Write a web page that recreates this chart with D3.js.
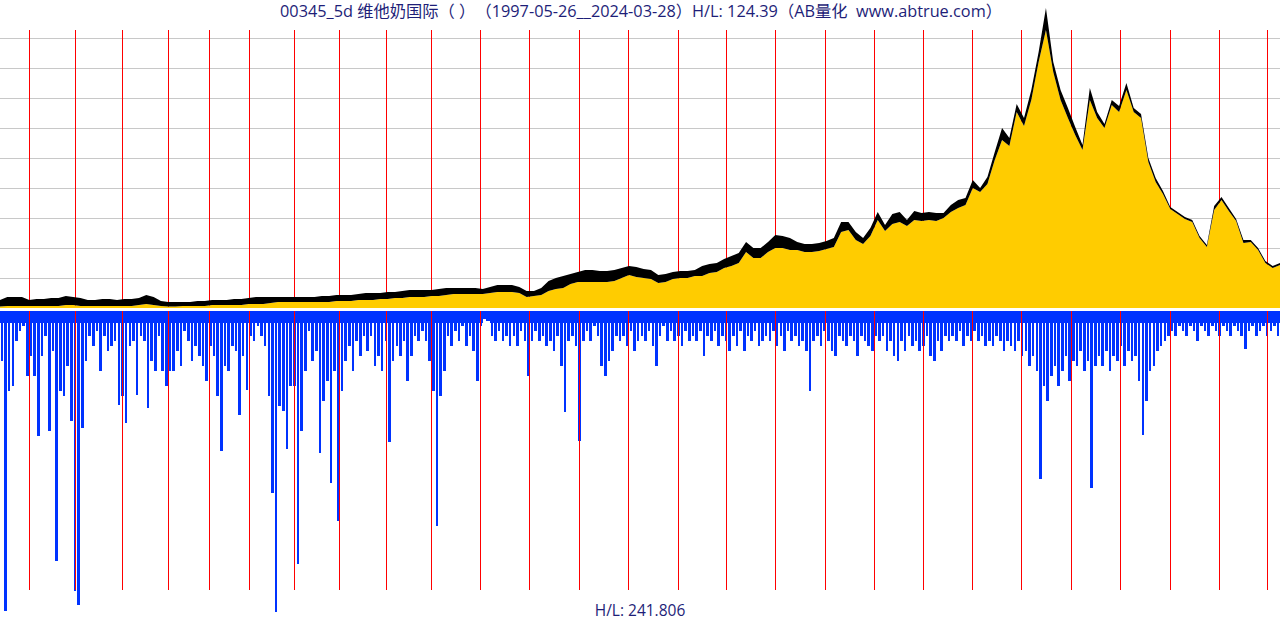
<!DOCTYPE html>
<html>
<head>
<meta charset="utf-8">
<script src="https://cdn.jsdelivr.net/npm/d3@7"></script>
<style>
  body { margin: 0; background: #fff; }
  svg { display: block; }
  text { text-spacing-trim: space-all; white-space: pre; }
</style>
</head>
<body>
<svg id="chart"></svg>
<script>
// 00345 weekly (5d) bars, 1997-05-26 .. 2024-03-28
var totalWeeks = 1400
var priceStep = 8   // one price sample every 8 weeks
var volStep = 4     // one volume sample every 4 weeks

// weekly high / low (HKD, adjusted), sampled every 8 weeks
var priceHigh = [
  0.98, 1.34, 1.34, 1.34, 0.98, 1.10, 1.10, 1.22, 1.22, 1.46,
  1.34, 1.22, 0.98, 0.98, 1.10, 1.10, 0.98, 1.10, 1.10, 1.22,
  1.59, 1.34, 0.85, 0.73, 0.73, 0.73, 0.73, 0.85, 0.85, 0.98,
  0.98, 0.98, 1.10, 1.10, 1.22, 1.34, 1.34, 1.34, 1.34, 1.34,
  1.34, 1.34, 1.34, 1.34, 1.46, 1.46, 1.59, 1.59, 1.59, 1.71,
  1.83, 1.83, 1.83, 1.95, 1.95, 2.07, 2.20, 2.20, 2.20, 2.20,
  2.32, 2.44, 2.44, 2.44, 2.44, 2.44, 2.32, 2.56, 2.81, 2.81,
  2.81, 2.56, 2.07, 2.07, 2.44, 3.29, 3.66, 3.90, 4.15, 4.39,
  4.64, 4.64, 4.51, 4.51, 4.64, 4.88, 5.12, 5.00, 4.76, 4.64,
  4.03, 4.15, 4.39, 4.51, 4.51, 4.64, 5.12, 5.37, 5.49, 5.98,
  6.34, 6.71, 8.05, 7.32, 7.32, 8.05, 8.91, 8.78, 8.54, 8.05,
  7.81, 7.81, 7.93, 8.17, 8.54, 10.49, 10.49, 9.27, 8.54, 9.76,
  11.71, 10.13, 11.47, 11.71, 10.74, 11.83, 11.59, 11.71, 11.59, 11.59,
  12.57, 13.18, 13.42, 15.62, 14.64, 15.98, 19.03, 21.96, 20.74, 24.89,
  23.18, 26.60, 31.23, 36.60, 30.01, 26.60, 24.40, 22.08, 19.89, 26.84,
  23.91, 22.45, 25.38, 24.64, 27.45, 24.40, 23.67, 18.30, 15.86, 14.27,
  12.32, 11.71, 11.10, 10.74, 8.78, 7.69, 12.44, 13.54, 12.20, 10.86,
  8.30, 8.30, 7.32, 5.73, 5.12, 5.49
]
var priceLow = [
  0.18, 0.24, 0.24, 0.24, 0.24, 0.24, 0.24, 0.24, 0.24, 0.37,
  0.37, 0.24, 0.24, 0.24, 0.24, 0.24, 0.24, 0.24, 0.24, 0.37,
  0.49, 0.37, 0.24, 0.18, 0.18, 0.24, 0.24, 0.24, 0.24, 0.37,
  0.37, 0.37, 0.37, 0.37, 0.49, 0.49, 0.49, 0.61, 0.73, 0.73,
  0.73, 0.73, 0.73, 0.73, 0.73, 0.73, 0.85, 0.85, 0.85, 0.98,
  0.98, 0.98, 1.10, 1.10, 1.22, 1.22, 1.34, 1.34, 1.34, 1.46,
  1.46, 1.59, 1.71, 1.71, 1.71, 1.71, 1.71, 1.83, 1.95, 1.95,
  1.95, 1.83, 1.34, 1.46, 1.59, 2.07, 2.32, 2.44, 2.93, 3.17,
  3.17, 3.17, 3.17, 3.17, 3.29, 3.66, 4.03, 3.78, 3.66, 3.54,
  3.05, 3.17, 3.54, 3.66, 3.66, 3.90, 3.90, 4.27, 4.39, 4.88,
  5.12, 5.49, 6.83, 6.10, 6.10, 6.83, 7.32, 7.32, 7.08, 7.08,
  6.83, 6.83, 6.95, 7.20, 7.44, 9.27, 9.52, 8.30, 7.81, 8.78,
  10.74, 9.39, 10.25, 10.49, 10.00, 10.74, 10.61, 10.74, 10.61, 10.98,
  11.71, 12.20, 12.57, 14.64, 14.15, 15.13, 18.06, 20.50, 19.76, 23.91,
  22.20, 25.38, 30.01, 33.92, 28.79, 25.38, 23.18, 21.11, 19.28, 25.38,
  23.18, 21.96, 24.77, 23.91, 26.60, 23.91, 23.18, 17.81, 15.37, 13.91,
  12.08, 11.47, 10.86, 10.49, 8.54, 7.44, 11.96, 13.18, 11.83, 10.61,
  7.93, 8.05, 7.08, 5.49, 4.88, 5.25
]

// volume (relative units), sampled every 4 weeks
var volume = [
  50, 300, 80, 75, 30, 20, 15, 65, 45, 65,
  125, 45, 25, 120, 40, 250, 80, 85, 55, 110,
  280, 294, 117, 50, 25, 35, 20, 60, 25, 40,
  35, 30, 94, 85, 112, 35, 30, 84, 25, 30,
  97, 50, 60, 25, 60, 75, 60, 60, 40, 55,
  20, 30, 50, 35, 45, 55, 70, 35, 45, 85,
  140, 55, 60, 35, 40, 104, 45, 79, 25, 30,
  15, 25, 35, 85, 182, 301, 95, 100, 138, 75,
  75, 253, 120, 60, 20, 50, 40, 142, 90, 70,
  172, 60, 210, 80, 50, 35, 60, 30, 45, 25,
  40, 25, 55, 45, 60, 30, 131, 50, 35, 45,
  30, 70, 45, 25, 30, 20, 30, 50, 80, 215,
  85, 60, 25, 35, 20, 30, 15, 35, 25, 40,
  70, 15, 8, 10, 25, 30, 20, 30, 25, 35,
  25, 35, 20, 30, 65, 30, 20, 30, 25, 35,
  30, 40, 25, 55, 101, 30, 25, 35, 130, 30,
  20, 30, 15, 25, 55, 65, 50, 40, 25, 30,
  25, 35, 20, 40, 30, 25, 30, 20, 35, 55,
  25, 15, 30, 20, 30, 25, 35, 20, 30, 25,
  30, 20, 45, 25, 30, 20, 35, 25, 30, 40,
  25, 35, 20, 40, 25, 30, 20, 35, 30, 25,
  30, 20, 35, 25, 40, 20, 30, 25, 35, 30,
  40, 80, 30, 25, 35, 20, 30, 40, 45, 25,
  30, 35, 25, 30, 45, 25, 30, 35, 40, 25,
  30, 25, 40, 30, 45, 50, 30, 40, 25, 35,
  30, 40, 35, 25, 45, 50, 30, 40, 25, 30,
  25, 30, 20, 35, 25, 30, 20, 30, 25, 35,
  30, 35, 25, 30, 40, 30, 35, 40, 30, 45,
  40, 55, 45, 60, 168, 75, 90, 65, 55, 75,
  60, 45, 70, 50, 55, 40, 60, 50, 177, 55,
  45, 55, 40, 60, 45, 50, 35, 55, 40, 50,
  45, 70, 124, 90, 60, 55, 40, 35, 30, 25,
  20, 25, 15, 20, 25, 15, 20, 30, 15, 20,
  25, 15, 20, 25, 15, 20, 25, 15, 20, 25,
  38, 20, 15, 25, 20, 15, 25, 20, 15, 25
]
var volBase = 12   // the dense band every week reaches

// first bar (week number) of each calendar year
var years = [1998, 1999, 2000, 2001, 2002, 2003, 2004, 2005, 2006, 2007, 2008, 2009, 2010,
             2011, 2012, 2013, 2014, 2015, 2016, 2017, 2018, 2019, 2020, 2021, 2022, 2023, 2024]
var yearStartWeek = [32, 82, 133, 184, 229, 272, 322, 371, 422, 471, 525, 579, 633, 687,
                     742, 794, 848, 902, 956, 1010, 1063, 1117, 1171, 1225, 1280, 1333, 1386]

var gridLevels = [0.1, 0.2, 0.3, 0.4, 0.5, 0.6, 0.7, 0.8, 0.9]

var titleText = "00345_5d 维他奶国际（ ）（1997-05-26__2024-03-28）H/L: 124.39（AB量化  www.abtrue.com）"
var volumeText = "H/L: 241.806"

var dimensions = {
    width: 1280,
    height: 620,
    priceTop: 8,
    priceBottom: 308,
    volTop: 311,
    volBottom: 612,
    lineTop: 30,
    lineBottom: 590
}

var svg = d3.select("#chart")
            .attr("width", dimensions.width)
            .attr("height", dimensions.height)

var xScale = d3.scaleLinear()
               .domain([0, totalWeeks])
               .range([0, dimensions.width])

var maxHigh = d3.max(priceHigh)
var yScale = d3.scaleLinear()
               .domain([0, maxHigh])
               .range([dimensions.priceBottom, dimensions.priceTop])

var vScale = d3.scaleLinear()
               .domain([0, d3.max(volume)])
               .range([dimensions.volTop, dimensions.volBottom])

// horizontal grid
svg.append("g")
   .selectAll("line")
   .data(gridLevels)
   .enter()
   .append("line")
   .attr("x1", 0)
   .attr("x2", dimensions.width)
   .attr("y1", d => Math.round(yScale(d * maxHigh)) + 0.5)
   .attr("y2", d => Math.round(yScale(d * maxHigh)) + 0.5)
   .attr("stroke", "#c8c8c8")
   .attr("stroke-width", 1)

// volume: solid band + spikes
var barW = xScale(volStep) - xScale(0)
var spikeW = barW * 0.7
var volG = svg.append("g")
              .attr("fill", "#0033ff")
              .attr("shape-rendering", "crispEdges")
volG.selectAll("rect.base")
    .data(volume)
    .enter()
    .append("rect")
    .attr("class", "base")
    .attr("x", (d, i) => xScale(i * volStep))
    .attr("width", barW + 0.4)
    .attr("y", vScale(0))
    .attr("height", d => vScale(Math.min(d, volBase)) - vScale(0))
volG.selectAll("rect.spike")
    .data(volume)
    .enter()
    .append("rect")
    .attr("class", "spike")
    .attr("x", (d, i) => xScale(i * volStep) + (barW - spikeW) / 2)
    .attr("width", spikeW)
    .attr("y", vScale(0))
    .attr("height", d => vScale(d) - vScale(0))

// year separators (price part and volume part)
var yearG = svg.append("g")
               .attr("stroke", "#ff0000")
               .attr("stroke-width", 1)
yearG.selectAll("line.top")
     .data(yearStartWeek)
     .enter()
     .append("line")
     .attr("class", "top")
     .attr("x1", d => Math.round(xScale(d)) + 0.5)
     .attr("x2", d => Math.round(xScale(d)) + 0.5)
     .attr("y1", dimensions.lineTop)
     .attr("y2", yScale(0))
yearG.selectAll("line.bottom")
     .data(yearStartWeek)
     .enter()
     .append("line")
     .attr("class", "bottom")
     .attr("x1", d => Math.round(xScale(d)) + 0.5)
     .attr("x2", d => Math.round(xScale(d)) + 0.5)
     .attr("y1", vScale(0))
     .attr("y2", dimensions.lineBottom)

// price: yellow body up to the low, black band low..high
var lowArea = d3.area()
                .x((d, i) => xScale(i * priceStep))
                .y0(yScale(0))
                .y1(d => yScale(d))
svg.append("path")
   .datum(priceLow)
   .attr("d", lowArea)
   .attr("fill", "#ffcc00")

var rangeArea = d3.area()
                  .x((d, i) => xScale(i * priceStep))
                  .y0((d, i) => yScale(priceLow[i]))
                  .y1(d => yScale(d))
svg.append("path")
   .datum(priceHigh)
   .attr("d", rangeArea)
   .attr("fill", "#000000")

// texts
svg.append("text")
   .attr("x", 641)
   .attr("y", 17)
   .attr("text-anchor", "middle")
   .style("font-family", "'Open Sans', 'Noto Sans CJK SC', sans-serif")
   .style("font-size", "16.3px")
   .attr("fill", "#1e1e78")
   .text(titleText)

svg.append("text")
   .attr("x", 640)
   .attr("y", 616)
   .attr("text-anchor", "middle")
   .style("font-family", "'Open Sans', 'Noto Sans CJK SC', sans-serif")
   .style("font-size", "15.5px")
   .attr("fill", "#1e1e78")
   .text(volumeText)
</script>
</body>
</html>
